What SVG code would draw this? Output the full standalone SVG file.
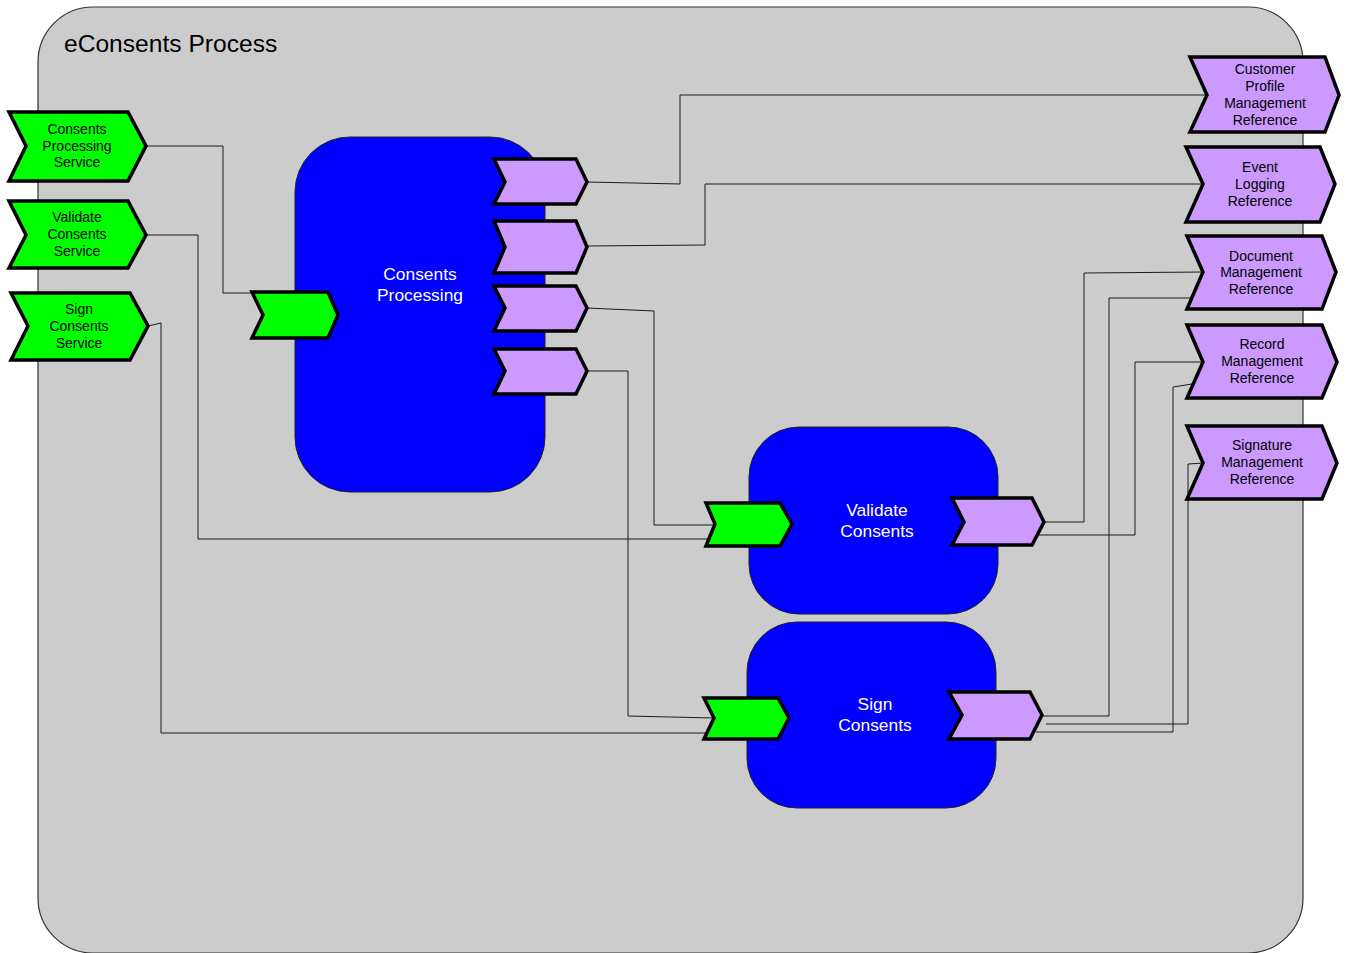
<svg xmlns="http://www.w3.org/2000/svg" width="1346" height="953" viewBox="0 0 1346 953">
<style>
.bg{fill:#fff}
.cont{fill:#cccccc;stroke:#333;stroke-width:1.2}
.title{font-family:"Liberation Sans",Arial,sans-serif;font-size:24.6px;fill:#000}
.proc{fill:#0000ff;stroke:#222;stroke-width:1}
.ptxt{font-family:"Liberation Sans",Arial,sans-serif;font-size:17.4px;fill:#fff;text-anchor:middle}
.in{fill:#00ff00;stroke:#000;stroke-width:3.5;stroke-linejoin:miter}
.out{fill:#cc99ff;stroke:#000;stroke-width:3.5;stroke-linejoin:miter}
.ctxt{font-family:"Liberation Sans",Arial,sans-serif;font-size:14px;fill:#000;text-anchor:middle}
.conn{fill:none;stroke:#1a1a1a;stroke-width:1}
</style>
<rect class="bg" x="0" y="0" width="1346" height="953"/>
<g id="container">
<rect class="cont" x="38" y="7" width="1265" height="946" rx="55" ry="55"/>
<text class="title" x="64" y="52">eConsents Process</text>
</g>
<g id="connectors">
<polyline class="conn" points="146,146 223,146 223,293 263,293"/>
<polyline class="conn" points="146,235 198,235 198,539 712,539"/>
<polyline class="conn" points="148,326 161,323 161,733 708,733"/>
<polyline class="conn" points="587,182 680,184 680,95 1207,95"/>
<polyline class="conn" points="587,246 705,245 705,184 1203,184"/>
<polyline class="conn" points="587,308 654,311 654,525 715,525"/>
<polyline class="conn" points="587,371 628,371 628,716 714,718"/>
<polyline class="conn" points="1044,522 1084,522 1084,273 1203,272"/>
<polyline class="conn" points="1039,535 1135,535 1135,362 1203,362"/>
<polyline class="conn" points="1042,716 1109,716 1109,298 1192,298"/>
<polyline class="conn" points="1046,724 1188,724 1188,464 1204,463"/>
<polyline class="conn" points="1036,732 1173,732 1173,387 1192,384"/>
</g>
<g id="consents-processing">
<rect class="proc" x="295" y="137" width="250" height="355" rx="55" ry="55"/>
<text class="ptxt" x="420" y="280">Consents</text>
<text class="ptxt" x="420" y="301">Processing</text>
</g>
<g id="validate-consents">
<rect class="proc" x="749" y="427" width="249" height="187" rx="50" ry="50"/>
<text class="ptxt" x="877" y="516">Validate</text>
<text class="ptxt" x="877" y="537">Consents</text>
</g>
<g id="sign-consents">
<rect class="proc" x="747" y="622" width="249" height="186" rx="50" ry="50"/>
<text class="ptxt" x="875" y="710">Sign</text>
<text class="ptxt" x="875" y="731">Consents</text>
</g>
<g id="consents-processing-service">
<polygon class="in" points="9,112 128,112 146,146 128,181 9,181 26,146"/>
<text class="ctxt" x="77" y="134">Consents</text>
<text class="ctxt" x="77" y="150.5">Processing</text>
<text class="ctxt" x="77" y="167">Service</text>
</g>
<g id="validate-consents-service">
<polygon class="in" points="9,201 128,201 146,235 128,268 9,268 26,235"/>
<text class="ctxt" x="77" y="222">Validate</text>
<text class="ctxt" x="77" y="239">Consents</text>
<text class="ctxt" x="77" y="256">Service</text>
</g>
<g id="sign-consents-service">
<polygon class="in" points="11,293 130,293 148,326 130,360 11,360 28,326"/>
<text class="ctxt" x="79" y="314">Sign</text>
<text class="ctxt" x="79" y="331">Consents</text>
<text class="ctxt" x="79" y="348">Service</text>
</g>
<g id="cp-input">
<polygon class="in" points="252,292 328,292 338,315 328,338 252,338 263,315"/>
</g>
<g id="cp-output-1">
<polygon class="out" points="494,159 576,159 587,182 576,204 494,204 505,182"/>
</g>
<g id="cp-output-2">
<polygon class="out" points="494,221 576,221 587,247 576,273 494,273 505,247"/>
</g>
<g id="cp-output-3">
<polygon class="out" points="494,286 576,286 587,308 576,331 494,331 505,308"/>
</g>
<g id="cp-output-4">
<polygon class="out" points="494,349 576,349 587,371 576,394 494,394 505,371"/>
</g>
<g id="vc-input">
<polygon class="in" points="706,503 780,503 792,524 780,546 706,546 715,524"/>
</g>
<g id="vc-output">
<polygon class="out" points="952,498 1032,498 1044,522 1032,545 952,545 964,522"/>
</g>
<g id="sc-input">
<polygon class="in" points="704,698 778,698 789,718 778,739 704,739 714,718"/>
</g>
<g id="sc-output">
<polygon class="out" points="949,692 1030,692 1042,715 1030,739 949,739 962,715"/>
</g>
<g id="customer-profile-management-reference">
<polygon class="out" points="1190,57 1325,57 1339,95 1325,132 1190,132 1207,95"/>
<text class="ctxt" x="1265" y="74">Customer</text>
<text class="ctxt" x="1265" y="91">Profile</text>
<text class="ctxt" x="1265" y="108">Management</text>
<text class="ctxt" x="1265" y="125">Reference</text>
</g>
<g id="event-logging-reference">
<polygon class="out" points="1186,147 1320,147 1335,184 1320,222 1186,222 1203,184"/>
<text class="ctxt" x="1260" y="172">Event</text>
<text class="ctxt" x="1260" y="189">Logging</text>
<text class="ctxt" x="1260" y="206">Reference</text>
</g>
<g id="document-management-reference">
<polygon class="out" points="1187,236 1322,236 1336,272 1322,309 1187,309 1203,272"/>
<text class="ctxt" x="1261" y="261">Document</text>
<text class="ctxt" x="1261" y="277">Management</text>
<text class="ctxt" x="1261" y="294">Reference</text>
</g>
<g id="record-management-reference">
<polygon class="out" points="1187,325 1322,325 1337,362 1322,398 1187,398 1203,362"/>
<text class="ctxt" x="1262" y="349">Record</text>
<text class="ctxt" x="1262" y="366">Management</text>
<text class="ctxt" x="1262" y="383">Reference</text>
</g>
<g id="signature-management-reference">
<polygon class="out" points="1187,426 1322,426 1337,463 1322,499 1187,499 1203,463"/>
<text class="ctxt" x="1262" y="450">Signature</text>
<text class="ctxt" x="1262" y="467">Management</text>
<text class="ctxt" x="1262" y="484">Reference</text>
</g>
</svg>
